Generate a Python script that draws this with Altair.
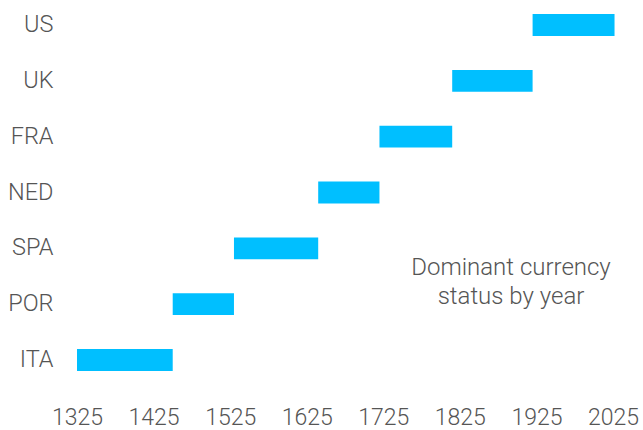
import altair as alt
import pandas as pd

countries = ["US", "UK", "FRA", "NED", "SPA", "POR", "ITA"]
start_years = [1920, 1815, 1720, 1640, 1530, 1450, 1325]
end_years = [2027, 1920, 1815, 1720, 1640, 1530, 1450]
tick_years = [1325, 1425, 1525, 1625, 1725, 1825, 1925, 2025]
note_lines = ["Dominant currency", "status by year"]

df = pd.DataFrame({"country": countries, "start": start_years, "end": end_years})

FONT = "Roboto"
GRAY = "#555555"

bars = alt.Chart(df).mark_bar(color="#00BFFF").encode(
    x=alt.X(
        "start:Q",
        scale=alt.Scale(domain=[1325, 2025], nice=False, zero=False),
        axis=alt.Axis(
            values=tick_years, format="d", title=None, grid=False, domain=False,
            ticks=False, labelPadding=21, labelFontSize=23, labelFont=FONT,
            labelFontWeight=300, labelColor=GRAY, labelFlush=False,
        ),
    ),
    x2="end:Q",
    y=alt.Y(
        "country:N",
        sort=countries,
        scale=alt.Scale(paddingInner=0.61, paddingOuter=0.253),
        axis=alt.Axis(
            title=None, grid=False, domain=False, ticks=False, labelPadding=24,
            labelFontSize=23.5, labelFont=FONT, labelFontWeight=300,
            labelColor=GRAY, labelAlign="right",
        ),
    ),
)

note = alt.Chart(pd.DataFrame({"t": [note_lines]})).mark_text(
    font=FONT, fontSize=24, fontWeight=300, color=GRAY, align="center",
    baseline="middle", lineHeight=29,
).encode(
    text="t",
    x=alt.value(434),
    y=alt.value(268),
)

chart = (
    alt.layer(bars, note)
    .properties(
        width=536, height=385,
        autosize=alt.AutoSizeParams(type="none"),
        padding={"left": 77, "top": 0, "right": 30, "bottom": 45},
    )
    .configure_view(stroke=None)
)

chart.save("out.html", embed_options={"renderer": "svg", "actions": False})
